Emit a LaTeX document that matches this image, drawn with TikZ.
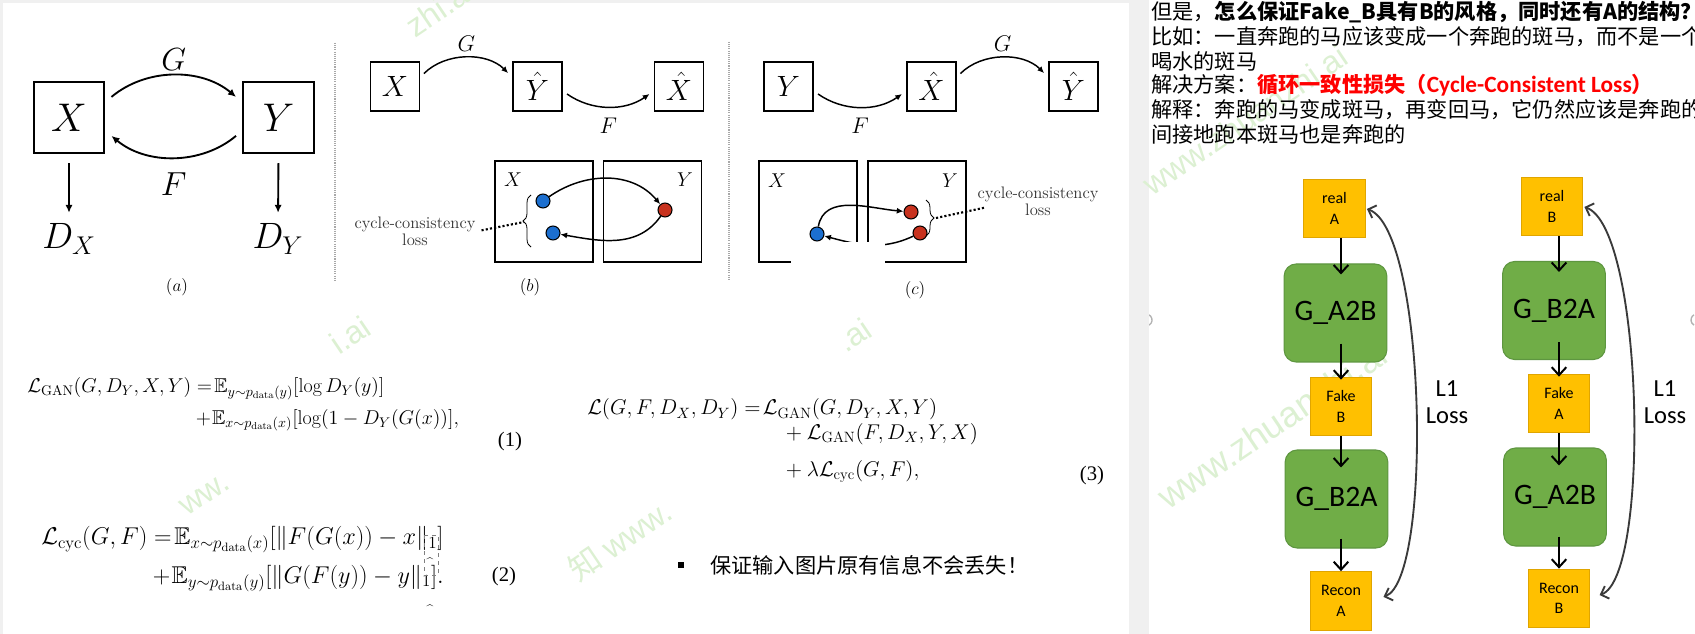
\RequirePackage{fix-cm}
\documentclass[tikz,border=0pt]{standalone}
\usepackage{amsmath,amssymb}
\usepackage{fontspec}
\newfontfamily\cjk{Noto Sans CJK SC}
\newfontfamily\cali{Carlito}
\newfontfamily\tms{Liberation Serif}
\newfontfamily\wmfont{Liberation Sans}
\usepackage{tikz}
\usetikzlibrary{arrows.meta,calc,positioning,decorations.pathreplacing}
\definecolor{bggray}{HTML}{F0F0F0}
\definecolor{realfill}{HTML}{FFC000}
\definecolor{realline}{HTML}{E0A500}
\definecolor{genfill}{HTML}{70AD47}
\definecolor{genline}{HTML}{5E9640}
\definecolor{dotblue}{HTML}{1C6FCF}
\definecolor{dotred}{HTML}{C8321E}
\definecolor{lossline}{HTML}{3A3A3A}
\definecolor{wmgreen}{HTML}{DCF0D2}
\definecolor{sepgray}{HTML}{A8A8A8}
\newcommand{\fsz}[1]{\fontsize{#1}{#1}\selectfont}

\begin{document}
\begin{tikzpicture}[x=0.75pt,y=0.75pt,
  bigbox/.style={draw,line width=1.5pt,minimum size=53pt,inner sep=0pt,font=\fsz{30}},
  smallbox/.style={draw,line width=1.2pt,minimum size=36.5pt,inner sep=0pt,font=\fsz{22}},
  field/.style={draw,line width=1.2pt,minimum width=73.5pt,minimum height=75.75pt,inner sep=0pt},
  pointdot/.style={circle,draw,line width=0.8pt,minimum size=10.5pt,inner sep=0pt},
  arr/.style={-{Latex[length=6pt,width=5.5pt]},line width=1.4pt},
  sarr/.style={-{Latex[length=5pt,width=4.5pt]},line width=1.1pt},
  dotline/.style={line width=1.6pt,dash pattern=on 1.6pt off 1.6pt},
  sepline/.style={draw=sepgray,line width=0.8pt,dash pattern=on 0.8pt off 0.8pt},
  sublabel/.style={font=\fsz{13},inner sep=0pt},
  closs/.style={align=center,font=\fontsize{12.5}{13}\selectfont,text=black!80,inner sep=0pt},
  eq/.style={anchor=west,inner sep=0pt},
  eqnum/.style={inner sep=0pt,font=\tms\fsz{15.5}},
  txt/.style={anchor=west,inner sep=0pt,font=\cjk\fsz{15.9}},
  imgbox/.style={draw=realline,fill=realfill,line width=0.8pt,minimum width=46pt,minimum height=44pt,inner sep=0pt,align=center,font=\cali\fontsize{12}{15.5}\selectfont},
  genbox/.style={draw=genline,fill=genfill,line width=0.8pt,rounded corners=9pt,minimum width=77pt,minimum height=73.5pt,inner sep=0pt,font=\cali\fsz{22.3}},
  farr/.style={-{Straight Barb[length=6pt,width=11pt]},line width=1.5pt},
  lossarr/.style={{Straight Barb[length=5pt,width=10pt]}-{Straight Barb[length=5pt,width=10pt]},draw=lossline,line width=1.4pt},
  lossl/.style={align=center,inner sep=0pt,font=\cali\fontsize{18.4}{20}\selectfont},
  wm/.style={text=wmgreen,font=\wmfont\fsz{24},rotate=34,inner sep=0pt},
  >=Latex
]
\useasboundingbox (0,0) rectangle (1695,-634);
\fill[bggray] (0,0) rectangle (1695,-634);
\fill[white] (3,-3) rectangle (1129,-634);
\fill[white] (1149,0) rectangle (1695,-634);

% watermark
\node[wm] (w1) at (440,-8) {zhi.ai};
\node[wm] (w2) at (350,-335) {i.ai};
\node[wm] (w3) at (854,-335) {.ai};
\node[wm] (w4) at (205,-495) {ww.};
\node[wm] (w5) at (620,-540) {\cjk 知 \wmfont www.};
\node[wm] (w6) at (1245,-120) {www.zhuanzhi.ai};
\node[wm,font=\wmfont\fsz{27}] (w7) at (1272,-425) {www.zhuanzhi.ai};

% (a)
\node[bigbox] (xa) at (69,-117.5) {$X$};
\node[bigbox] (ya) at (278.5,-117.5) {$Y$};
\node[font=\fsz{27.5},inner sep=0pt] (dx) at (69,-239) {$D_X$};
\node[font=\fsz{27.5},inner sep=0pt] (dy) at (278,-239) {$D_Y$};
\draw[arr,shorten <=6pt,shorten >=6pt] (xa.23) to[out=40,in=140] node[above=0pt,font=\fsz{24}] {$G$} (ya.157);
\draw[arr,shorten <=6pt,shorten >=6pt] (ya.200) to[out=-140,in=-40] node[below=8pt,font=\fsz{25}] {$F$} (xa.340);
\draw[arr,shorten <=7pt,shorten >=8pt] (xa) -- (dx);
\draw[arr,shorten <=7pt,shorten >=8pt] (ya.south) -- (dy.north);
\node[sublabel] (la) at (177,-287) {$(a)$};

\draw[sepline] (335,-43) -- (335,-280);
\draw[sepline] (729,-42) -- (729,-280);

% (b)
\node[smallbox] (xb) at (395,-86.5) {$X$};
\node[smallbox] (yhb) at (537.5,-86.5) {$\hat{Y}$};
\node[smallbox] (xhb) at (679,-86.5) {$\hat{X}$};
\draw[sarr,shorten <=4pt,shorten >=4.5pt] (xb.20) to[out=45,in=135] node[above=1pt,font=\fsz{17}] {$G$} (yhb.160);
\draw[sarr,shorten <=4pt,shorten >=4pt] (yhb.-10) to[out=-35,in=-145] node[below=5pt,font=\fsz{17}] {$F$} (xhb.190);
\node[field] (bx) at (544,-211.5) {};
\node[field] (by) at (652.5,-211.5) {};
\node[font=\fsz{15}] (bxl) at (513,-180) {$X$};
\node[font=\fsz{15}] (byl) at (685,-180) {$Y$};
\node[pointdot,fill=dotblue] (b1) at (543,-201) {};
\node[pointdot,fill=dotblue] (b2) at (553,-233) {};
\node[pointdot,fill=dotred] (r1) at (665,-210) {};
\draw[sarr] (b1) to[out=35,in=130] (r1);
\draw[sarr] (r1) to[out=-125,in=-10] (b2);
\draw[decorate,decoration={brace,amplitude=6pt},line width=0.6pt] (531,-247) -- (531,-195);
\coordinate (bt1) at (524,-222);
\node[closs] (cl1) at (415,-231.5) {cycle-consistency\\loss};
\draw[dotline,shorten <=4.5pt] (cl1.east) -- (bt1);
\node[sublabel] (lb) at (530,-287) {$(b)$};

% (c)
\node[smallbox] (yc) at (788.5,-86.5) {$Y$};
\node[smallbox] (xhc) at (931.5,-86.5) {$\hat{X}$};
\node[smallbox] (yhc) at (1073.5,-86.5) {$\hat{Y}$};
\draw[sarr,shorten <=4pt,shorten >=4pt] (yc.-10) to[out=-35,in=-145] node[below=5pt,font=\fsz{17}] {$F$} (xhc.190);
\draw[sarr,shorten <=4pt,shorten >=4.5pt] (xhc.20) to[out=45,in=135] node[above=1pt,font=\fsz{17}] {$G$} (yhc.160);
\node[field] (cx) at (808,-211.5) {};
\node[field] (cy) at (917,-211.5) {};
\node[font=\fsz{15}] (cxl) at (777,-181) {$X$};
\node[font=\fsz{15}] (cyl) at (950,-181) {$Y$};
\node[pointdot,fill=dotblue] (c1) at (817,-234) {};
\node[pointdot,fill=dotred] (c2) at (911,-212) {};
\node[pointdot,fill=dotred] (c3) at (920,-233) {};
\draw[sarr] (c1) to[out=80,in=175] (c2);
\draw[sarr] (c3) to[out=-155,in=-15] (c1);
\draw[decorate,decoration={brace,amplitude=6pt},line width=0.6pt] (926,-200) -- (926,-236);
\coordinate (bt2) at (936,-218);
\node[closs] (cl2) at (1038,-201.5) {cycle-consistency\\loss};
\draw[dotline] (bt2) -- ($(cl2.west)+(8,-6)$);
\fill[white] (791,-242) rectangle (885,-268);
\node[sublabel] (lc) at (915,-290) {$(c)$};

% losses
\node[eq,font=\fsz{15}] (e1) at (27,-404.5) {$\begin{aligned}\mathcal{L}_{\text{GAN}}(G,D_Y,X,Y) &=\!\mathbb{E}_{y\sim p_{\text{data}}(y)}[\log D_Y(y)]\\[3pt] &+\!\mathbb{E}_{x\sim p_{\text{data}}(x)}[\log(1-D_Y(G(x))],\end{aligned}$};
\node[eqnum] (n1) at (510,-442) {(1)};
\node[eq,font=\fsz{18.2}] (e2) at (41,-559) {$\begin{aligned}\mathcal{L}_{\text{cyc}}(G,F) &=\!\mathbb{E}_{x\sim p_{\text{data}}(x)}[\lVert F(G(x))-x\rVert_1]\\[5pt] &+\!\mathbb{E}_{y\sim p_{\text{data}}(y)}[\lVert G(F(y))-y\rVert_1].\end{aligned}$};
\node[eqnum] (n2) at (504,-577) {(2)};
\draw[dashed,gray,line width=0.4pt] (424,-535) rectangle (438,-575);
\node[font=\fsz{9},inner sep=0pt] (k1) at (430,-562) {\textasciicircum};
\node[font=\fsz{9},inner sep=0pt] (k2) at (430,-609) {\textasciicircum};
\node[eq,font=\fsz{16}] (e3) at (587,-441) {$\begin{aligned}\mathcal{L}(G,F,D_X,D_Y) &=\!\mathcal{L}_{\text{GAN}}(G,D_Y,X,Y)\\[-2.5pt] &\qquad{}+\mathcal{L}_{\text{GAN}}(F,D_X,Y,X)\\[7.3pt] &\qquad{}+\lambda\mathcal{L}_{\text{cyc}}(G,F),\end{aligned}$};
\node[eqnum] (n3) at (1092,-476) {(3)};
\node[fill=black,minimum size=4.5pt,inner sep=0pt] (bul) at (681,-565) {};
\node[anchor=west,inner sep=0pt,font=\cjk\fsz{15.9}] (note) at (710,-565) {保证输入图片原有信息不会丢失！};

% right panel text
\begin{scope}
\clip (1149,0) rectangle (1695,-634);
\node[txt] (t1) at (1151,-12) {但是，\textbf{怎么保证Fake\_B具有B的风格，同时还有A的结构？}};
\node[txt] (t2) at (1151,-36.5) {比如：一直奔跑的马应该变成一个奔跑的斑马，而不是一个};
\node[txt] (t3) at (1151,-61) {喝水的斑马};
\node[txt] (t4) at (1151,-85.5) {解决方案：\textcolor{red}{\textbf{循环一致性损失（{\cali\bfseries\fsz{17.5}Cycle-Consistent Loss}）}}};
\node[txt] (t5) at (1151,-110) {解释：奔跑的马变成斑马，再变回马，它仍然应该是奔跑的};
\node[txt] (t6) at (1151,-134.5) {间接地跑本斑马也是奔跑的};
\draw[black!30,line width=1pt] (1146,-320) ++(60:6) arc (60:-60:6);
\draw[black!30,line width=1pt] (1697,-320) ++(120:6) arc (120:240:6);
\end{scope}

% flow
\node[imgbox] (ra) at (1334.5,-208.5) {real\\A};
\node[genbox] (g1) at (1335.5,-313) {G\_A2B};
\node[imgbox] (fb) at (1341,-406.5) {Fake\\B};
\node[genbox] (g2) at (1336.5,-499) {G\_B2A};
\node[imgbox] (rca) at (1341,-601) {Recon\\A};
\node[imgbox] (rb) at (1552,-206.5) {real\\B};
\node[genbox] (g3) at (1554,-310.5) {G\_B2A};
\node[imgbox] (fa) at (1559,-403.5) {Fake\\A};
\node[genbox] (g4) at (1555,-497) {G\_A2B};
\node[imgbox] (rcb) at (1559,-598.5) {Recon\\B};
\draw[farr] (ra.south -| fb) -- ($(g1.north -| fb)+(0,-11)$);
\draw[farr] ($(g1.south -| fb)+(0,19)$) -- ($(fb.north)+(0,-3)$);
\draw[farr] (fb.south) -- ($(g2.north -| fb)+(0,-18)$);
\draw[farr] ($(g2.south -| fb)+(0,10)$) -- (rca.north);
\draw[farr] (rb.south -| fa) -- ($(g3.north -| fa)+(0,-11)$);
\draw[farr] ($(g3.south -| fa)+(0,18)$) -- ($(fa.north)+(0,-3)$);
\draw[farr] (fa.south) -- ($(g4.north -| fa)+(0,-18)$);
\draw[farr] ($(g4.south -| fa)+(0,10)$) -- (rcb.north);
\draw[lossarr,shorten <=9pt,shorten >=1pt] (rca.east) to[out=20,in=-20,looseness=0.42] (ra.east);
\draw[lossarr,shorten <=7.5pt,shorten >=1pt] (rcb.east) to[out=20,in=-20,looseness=0.42] (rb.east);
\node[lossl] (ll1) at (1447,-402) {L1\\Loss};
\node[lossl] (ll2) at (1665,-402) {L1\\Loss};
\end{tikzpicture}
\end{document}
